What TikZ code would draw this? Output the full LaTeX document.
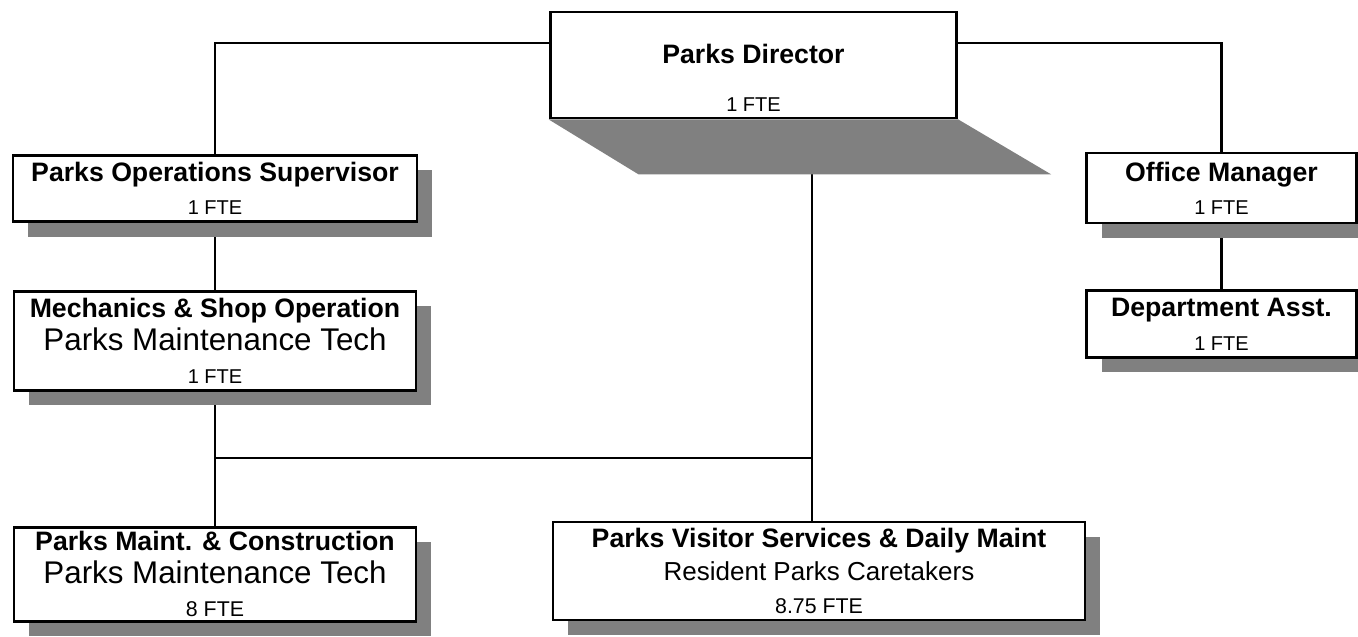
\documentclass[tikz,border=0pt]{standalone}
\usepackage{fontspec}
\setsansfont{Liberation Sans}
\usetikzlibrary{positioning,shadows,backgrounds}
\tikzset{
    plainbox/.style={draw, line width=2.2pt, fill=white, align=center, inner sep=2pt, font=\sffamily\fontsize{20}{25}\selectfont},
    unitbox/.style={plainbox, drop shadow={shadow xshift=11pt, shadow yshift=-11pt, fill=black!50, opacity=1}},
    linkline/.style={line width=1.6pt}
}
\newcommand{\unitname}[1]{{\bfseries #1}}
\newcommand{\unitrole}[2][23.5]{{\fontsize{#1}{25}\selectfont #2}}
\newcommand{\unitfte}[2][15]{{\fontsize{#1}{25}\selectfont #2}}

\begin{document}
\begin{tikzpicture}[x=0.75pt, y=-0.75pt]
    \useasboundingbox (0,0) rectangle (1358,636);

    \node[plainbox, minimum width=305pt, minimum height=79.5pt, text height=70pt] (dir) at (753.5,65) {\unitname{Parks Director}\\[11pt]\unitfte{1 FTE}};
    \fill[black!50] (dir.south west) -- (dir.south east) -- ++(93,55) -- ([shift={(90,55)}]dir.south west) -- cycle;

    \node[unitbox, minimum width=303pt, minimum height=50pt] (ops) at (215,188.5) {\unitname{Parks Operations Supervisor}\\\unitfte{1 FTE}};
    \node[unitbox, minimum width=301.5pt, minimum height=74pt, below=50pt of ops] (mech) {\unitname{Mechanics \& Shop Operation}\\\unitrole{Parks Maintenance Tech}\\\unitfte{1 FTE}};
    \node[unitbox, minimum width=301.5pt, minimum height=70.5pt, below=100.5pt of mech] (maint) {\unitname{Parks Maint. \& Construction}\\\unitrole{Parks Maintenance Tech}\\\unitfte[16]{8 FTE}};
    \node[unitbox, minimum width=399pt, minimum height=73.5pt] (visit) at (819,571) {\unitname{Parks Visitor Services \& Daily Maint}\\\unitrole[19.5]{Resident Parks Caretakers}\\\unitfte[16]{8.75 FTE}};

    \node[unitbox, minimum width=202pt, minimum height=52.5pt] (office) at (1221.5,188) {\unitname{Office Manager}\\\unitfte{1 FTE}};
    \node[unitbox, minimum width=202pt, minimum height=50pt, below=48.75pt of office] (dept) {\unitname{Department Asst.}\\\unitfte{1 FTE}};

    \coordinate (dirfoot) at (812,173);
    \coordinate (split) at (mech.south |- 0,458);

    % lines sit behind the boxes and their shadows
    \begin{scope}[on background layer]
        \draw[linkline] ([yshift=16.5pt]dir.west) -| (ops.north);
        \draw[linkline] ([yshift=16.5pt]dir.east) -| (office.north);
        \draw[linkline] (ops.south) -- (mech.north);
        \draw[linkline] (mech.south) -- (maint.north);
        \draw[linkline] (split) -- (split -| dirfoot);
        \draw[linkline] (dirfoot) -- (dirfoot |- visit.north);
        \draw[linkline] (office.south) -- (dept.north);
    \end{scope}
\end{tikzpicture}
\end{document}
